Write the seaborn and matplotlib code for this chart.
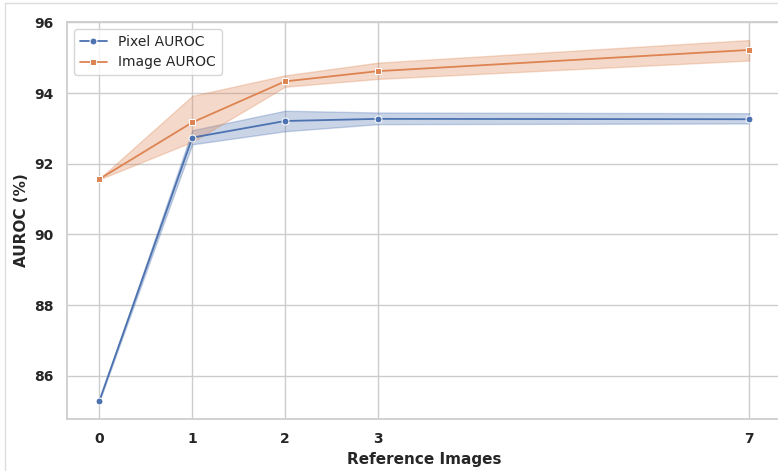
import pandas as pd
import seaborn as sns
import matplotlib.pyplot as plt
from matplotlib.lines import Line2D

# number of reference images (x axis)
ref_images = [0, 1, 2, 3, 7]

# Pixel AUROC: lower bound, mean, upper bound of the band
pixel_lo = [85.29, 92.55, 92.92, 93.12, 93.14]
pixel_mid = [85.30, 92.74, 93.21, 93.27, 93.26]
pixel_hi = [85.31, 92.95, 93.50, 93.45, 93.43]

# Image AUROC: lower bound, mean, upper bound of the band
image_lo = [91.56, 92.62, 94.18, 94.40, 94.92]
image_mid = [91.57, 93.17, 94.33, 94.62, 95.22]
image_hi = [91.58, 93.92, 94.50, 94.86, 95.50]

metric_names = ["Pixel AUROC", "Image AUROC"]

# long table: three values per point, median = mean line, band = min..max
rows = []
for name, series in zip(metric_names, [(pixel_lo, pixel_mid, pixel_hi), (image_lo, image_mid, image_hi)]):
    for vals in series:
        for x, v in zip(ref_images, vals):
            rows.append({"Reference Images": x, "AUROC": v, "Metric": name})
df = pd.DataFrame(rows)

sns.set_theme(style="whitegrid")
fig = plt.figure(figsize=(7.78, 4.71), dpi=100)
ax = fig.add_axes([67 / 778, 52 / 471, 714.5 / 778, 397 / 471])

sns.lineplot(data=df, x="Reference Images", y="AUROC", hue="Metric", style="Metric",
             markers=["o", "s"], dashes=False, estimator="median", errorbar=("pi", 100),
             err_kws={"alpha": 0.3}, palette=["#4C72B0", "#DD8452"],
             markersize=5, linewidth=1.3, ax=ax)

ax.set_xticks(ref_images)
ax.set_xticklabels([str(x) for x in ref_images], fontweight="bold", fontsize=10)
for lbl in ax.get_yticklabels():
    lbl.set_fontweight("bold")
    lbl.set_fontsize(10)
ax.set_xlabel("Reference Images", fontweight="bold", fontsize=11)
ax.set_ylabel("AUROC (%)", fontweight="bold", fontsize=11)

sns.move_legend(ax, "upper left", title=None, fontsize=10)

# thin frame from the screenshot
fig.add_artist(Line2D([5 / 778, 1], [1 - 3 / 471, 1 - 3 / 471], color="#dddddd", lw=1))
fig.add_artist(Line2D([5 / 778, 5 / 778], [0, 1 - 3 / 471], color="#dddddd", lw=1))

plt.savefig("out.png", dpi=100)
